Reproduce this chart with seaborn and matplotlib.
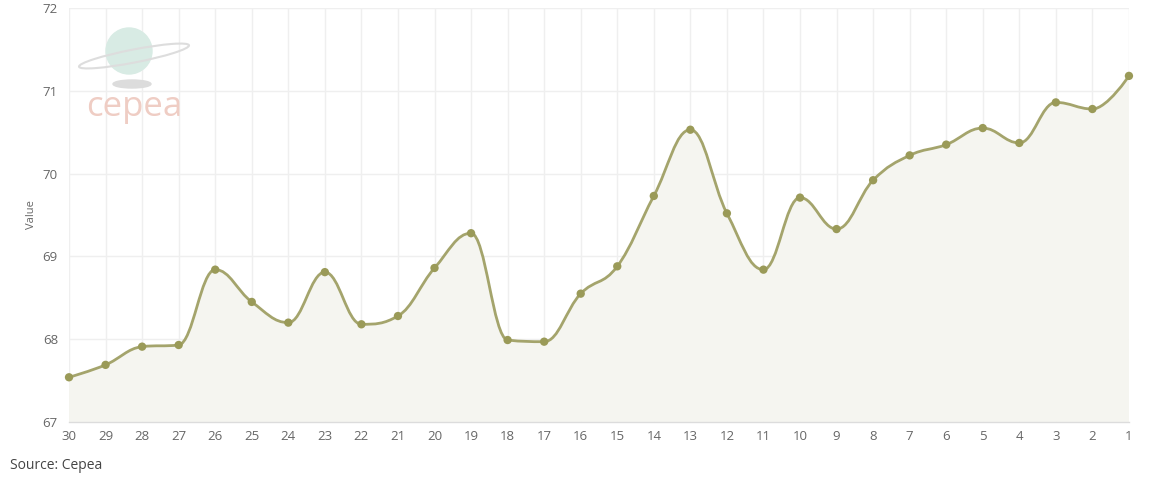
import numpy as np
import pandas as pd
import matplotlib
matplotlib.use("Agg")
import matplotlib.pyplot as plt
from matplotlib.path import Path
from matplotlib.patches import PathPatch, Circle, Ellipse
from matplotlib.transforms import IdentityTransform
import seaborn as sns

# dados (dias 30 -> 1)
days = [str(d) for d in range(30, 0, -1)]
values = [67.54, 67.69, 67.91, 67.93, 68.84, 68.45, 68.20, 68.81, 68.18, 68.28,
          68.86, 69.28, 67.99, 67.97, 68.55, 68.88, 69.73, 70.53, 69.52, 68.84,
          69.71, 69.33, 69.92, 70.22, 70.35, 70.55, 70.37, 70.86, 70.78, 71.18]
y_ticks = [67, 68, 69, 70, 71, 72]

df = pd.DataFrame({"day": days, "value": values})
df["pos"] = np.arange(len(df))

LINE = "#a4a46c"
DOT = "#9a9a58"
FILL = "#f5f5f0"
GRID = "#efefef"
TXT = "#666666"


def spline_path(xs, ys, close_to=None):
    # curva suave no estilo "spline" do highcharts (smoothing 1.5)
    sm, den = 1.5, 2.5
    n = len(xs)
    lc, rc = [None] * n, [None] * n
    for i in range(1, n - 1):
        px, py = xs[i], ys[i]
        lx, ly = xs[i - 1], ys[i - 1]
        nx, ny = xs[i + 1], ys[i + 1]
        lcx, lcy = (sm * px + lx) / den, (sm * py + ly) / den
        rcx, rcy = (sm * px + nx) / den, (sm * py + ny) / den
        corr = (rcy - lcy) * (rcx - px) / (rcx - lcx) + py - rcy
        lcy += corr
        rcy += corr
        if lcy > ly and lcy > py:
            lcy = max(ly, py)
            rcy = 2 * py - lcy
        elif lcy < ly and lcy < py:
            lcy = min(ly, py)
            rcy = 2 * py - lcy
        if rcy > ny and rcy > py:
            rcy = max(ny, py)
            lcy = 2 * py - rcy
        elif rcy < ny and rcy < py:
            rcy = min(ny, py)
            lcy = 2 * py - rcy
        lc[i] = (lcx, lcy)
        rc[i] = (rcx, rcy)
    verts = [(xs[0], ys[0])]
    codes = [Path.MOVETO]
    for i in range(1, n):
        c1 = rc[i - 1] or (xs[i - 1], ys[i - 1])
        c2 = lc[i] or (xs[i], ys[i])
        verts += [c1, c2, (xs[i], ys[i])]
        codes += [Path.CURVE4] * 3
    if close_to is not None:
        verts += [(xs[-1], close_to), (xs[0], close_to), (xs[0], ys[0])]
        codes += [Path.LINETO, Path.LINETO, Path.CLOSEPOLY]
    return Path(verts, codes)


sns.set_style("white")
plt.rcParams["font.family"] = ["Open Sans", "DejaVu Sans"]

W, H = 1156, 482
fig = plt.figure(figsize=(W / 100, H / 100), dpi=100)
ax = fig.add_axes([0.0597, 0.1245, 0.9169, 0.8589])

xs = df["pos"].to_numpy(float)
ys = df["value"].to_numpy(float)

ax.add_patch(PathPatch(spline_path(xs, ys, close_to=y_ticks[0]), facecolor=FILL,
                       edgecolor="none", zorder=1))
ax.add_patch(PathPatch(spline_path(xs, ys), facecolor="none", edgecolor=LINE,
                       lw=2, zorder=3, capstyle="round"))
sns.scatterplot(data=df, x="pos", y="value", ax=ax, color=DOT, s=36,
                edgecolor="none", zorder=4, clip_on=False)

ax.set_xlim(0, len(df) - 1)
ax.set_ylim(y_ticks[0], y_ticks[-1])
ax.set_xticks(df["pos"])
ax.set_xticklabels(days)
ax.set_yticks(y_ticks)

ax.grid(True, color=GRID, lw=1, zorder=0)
ax.set_axisbelow(True)
for s in ["top", "right", "left"]:
    ax.spines[s].set_visible(False)
ax.spines["bottom"].set_color("#dcdcdc")
ax.spines["bottom"].set_linewidth(1)

ax.tick_params(axis="x", colors="#dcdcdc", labelcolor=TXT, labelsize=9.5,
               length=4, width=1, pad=2)
ax.tick_params(axis="y", colors=GRID, labelcolor=TXT, labelsize=9.5,
               length=6, width=1, pad=2)

ax.set_xlabel("")
ax.set_ylabel("Value", color=TXT, fontsize=8, labelpad=4)

# logo cepea (coordenadas em pixels)
px = IdentityTransform()
fig.patches.append(Ellipse((132, H - 84), 38, 8, transform=px,
                           color="#dcdcdc", zorder=2))
fig.patches.append(Circle((129, H - 51), 23, transform=px,
                          color="#d8ebe4", zorder=2))
fig.patches.append(Ellipse((134, H - 56), 112, 13, angle=11, transform=px,
                           facecolor="none", edgecolor="#dddddd", lw=1.5, zorder=3))
fig.text(134 / W, 1 - 107 / H, "cepea", fontsize=25, color="#efcdc4",
         ha="center", va="center", zorder=3)

fig.text(0.009, 0.035, "Source: Cepea", fontsize=10, color="#444444",
         ha="left", va="center")

fig.savefig("out.png", dpi=100)
